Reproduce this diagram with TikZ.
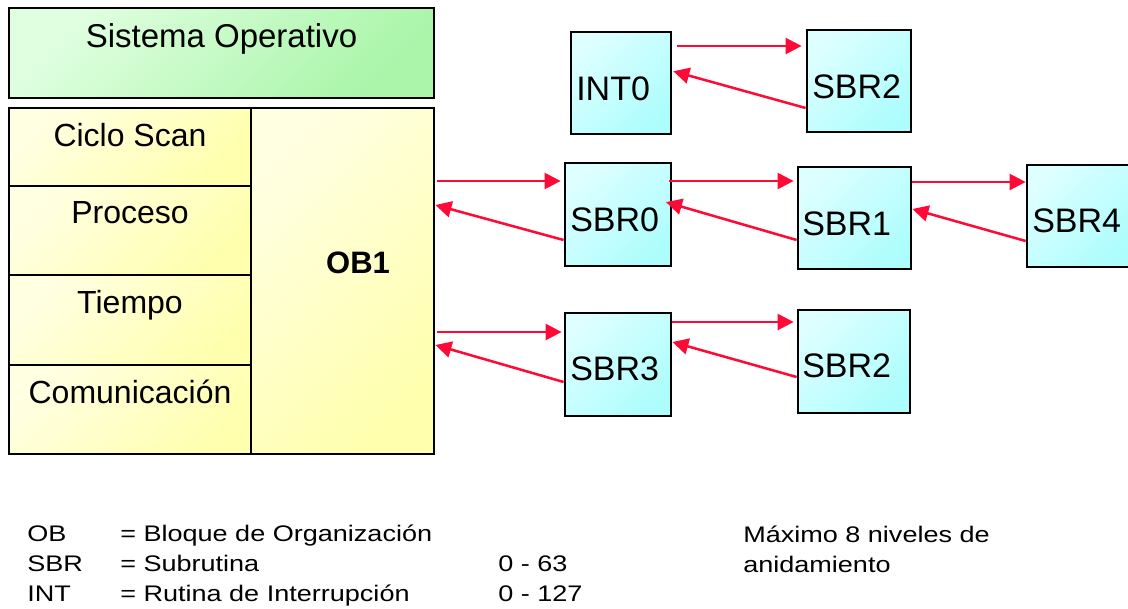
\documentclass[tikz,border=0pt]{standalone}
\usepackage{fontspec}
\setmainfont{Liberation Sans}
\newfontfamily\legendfont{Liberation Sans}[FakeStretch=1.2]
\usetikzlibrary{arrows.meta,calc}
\definecolor{cyanA}{HTML}{DDFFFF}
\definecolor{cyanB}{HTML}{AEFDFD}
\definecolor{greenA}{HTML}{E0FFE0}
\definecolor{greenB}{HTML}{AAF5AA}
\definecolor{yelA}{HTML}{FFFFE2}
\definecolor{yelB}{HTML}{FFFFAE}
\definecolor{arrred}{HTML}{FF0A37}
\begin{document}
\begin{tikzpicture}[x=0.75pt,y=-0.75pt,
  box/.style={draw=black, line width=2.1pt, rectangle, inner sep=0pt},
  cbox/.style={box, top color=cyanA, bottom color=cyanB, shading angle=45},
  gbox/.style={box, top color=greenA, bottom color=greenB, shading angle=45},
  ybox/.style={box, top color=yelA, bottom color=yelB, shading angle=45},
  bigtxt/.style={anchor=base, inner sep=0pt, font=\fontsize{24.75pt}{28pt}\selectfont},
  celltxt/.style={anchor=base, inner sep=0pt, font=\fontsize{24pt}{28pt}\selectfont},
  obtxt/.style={anchor=base, inner sep=0pt, font=\fontsize{23.25pt}{28pt}\selectfont\bfseries},
  ctxt/.style={anchor=base west, inner sep=0pt, font=\fontsize{25.5pt}{28pt}\selectfont},
  legtxt/.style={anchor=base west, inner sep=0pt, font=\legendfont\fontsize{16.9pt}{20pt}\selectfont},
  arr/.style={draw=arrred, line width=1.9pt, -{Triangle[length=12pt,width=12pt]}}
]
\useasboundingbox (0,0) rectangle (1128,608);
\clip (0,0) rectangle (1128,608);

% left blocks
\node[gbox, minimum width=318.75pt, minimum height=67.5pt] (so) at (221.5,53) {};
\node[ybox, minimum width=181.5pt, minimum height=58.5pt] (c1) at (130,147) {};
\node[ybox, minimum width=181.5pt, minimum height=66.75pt] (c2) at (130,230.5) {};
\node[ybox, minimum width=181.5pt, minimum height=67.5pt] (c3) at (130,320) {};
\node[ybox, minimum width=181.5pt, minimum height=66.75pt] (c4) at (130,409.5) {};
\node[ybox, minimum width=137.25pt, minimum height=259.5pt] (ob1) at (342.5,281) {};

\node[bigtxt] (sot) at (221.5,47) {Sistema Operativo};
\node[celltxt] (c1t) at (130,146) {Ciclo Scan};
\node[celltxt] (c2t) at (130,223) {Proceso};
\node[celltxt] (c3t) at (130,313) {Tiempo};
\node[celltxt] (c4t) at (130,403) {Comunicación};
\node[obtxt] (ob1t) at (358,273) {OB1};

% routine boxes
\node[cbox, minimum width=75pt, minimum height=76.5pt] (int0) at (621,83) {};
\node[cbox, minimum width=78pt, minimum height=76.5pt] (sbr2t) at (859,81) {};
\node[cbox, minimum width=79.5pt, minimum height=77.25pt] (sbr0) at (618,214.5) {};
\node[cbox, minimum width=84.75pt, minimum height=76.5pt] (sbr1) at (854.5,218) {};
\node[cbox, minimum width=78pt, minimum height=76.5pt] (sbr4) at (1079,216) {};
\node[cbox, minimum width=79.5pt, minimum height=77.25pt] (sbr3) at (618,364.5) {};
\node[cbox, minimum width=84pt, minimum height=77.25pt] (sbr2b) at (854,361.5) {};

\node[ctxt] (int0t) at (576,100) {INT0};
\node[ctxt] (sbr2tt) at (812,98) {SBR2};
\node[ctxt] (sbr0t) at (570,231) {SBR0};
\node[ctxt] (sbr1t) at (802,235) {SBR1};
\node[ctxt] (sbr4t) at (1032,232) {SBR4};
\node[ctxt] (sbr3t) at (570,380) {SBR3};
\node[ctxt] (sbr2bt) at (802,377) {SBR2};

% forward calls
\draw[arr, shorten <=3.75pt, shorten >=3pt] (int0.east |- 0,46) -- (sbr2t.west |- 0,46);
\draw[arr, shorten <=1.5pt, shorten >=2.25pt] (ob1.east |- 0,181) -- (sbr0.west |- 0,181);
\draw[arr, shorten <=-2.25pt, shorten >=2.25pt] (sbr0.east |- 0,181) -- (sbr1.west |- 0,181);
\draw[arr] (sbr1.east |- 0,182) -- (sbr4.west |- 0,182);
\draw[arr, shorten <=1.5pt, shorten >=1.5pt] (ob1.east |- 0,332) -- (sbr3.west |- 0,332);
\draw[arr, shorten >=2.25pt] (sbr3.east |- 0,322) -- (sbr2b.west |- 0,322);

% returns
\draw[arr, shorten >=0.75pt] (sbr2t.west |- 0,108) -- (int0.east |- 0,71);
\draw[arr] (sbr0.west |- 0,240) -- (ob1.east |- 0,205);
\draw[arr, shorten >=-5pt] (sbr1.west |- 0,240) -- (sbr0.east |- 0,204);
\draw[arr] (sbr4.west |- 0,241) -- (sbr1.east |- 0,209);
\draw[arr] (sbr3.west |- 0,382) -- (ob1.east |- 0,345);
\draw[arr] (sbr2b.west |- 0,377) -- (sbr3.east |- 0,342);

% legend
\node[legtxt] (l1a) at (27,541) {OB};
\node[legtxt] (l1b) at (120,541) {= Bloque de Organización};
\node[legtxt] (l2a) at (27,571) {SBR};
\node[legtxt] (l2b) at (120,571) {= Subrutina};
\node[legtxt] (l2c) at (498,571) {0 - 63};
\node[legtxt] (l3a) at (27,601) {INT};
\node[legtxt] (l3b) at (120,601) {= Rutina de Interrupción};
\node[legtxt] (l3c) at (498,601) {0 - 127};
\node[legtxt] (m1) at (743,542) {Máximo 8 niveles de};
\node[legtxt] (m2) at (743,572) {anidamiento};
\end{tikzpicture}
\end{document}
